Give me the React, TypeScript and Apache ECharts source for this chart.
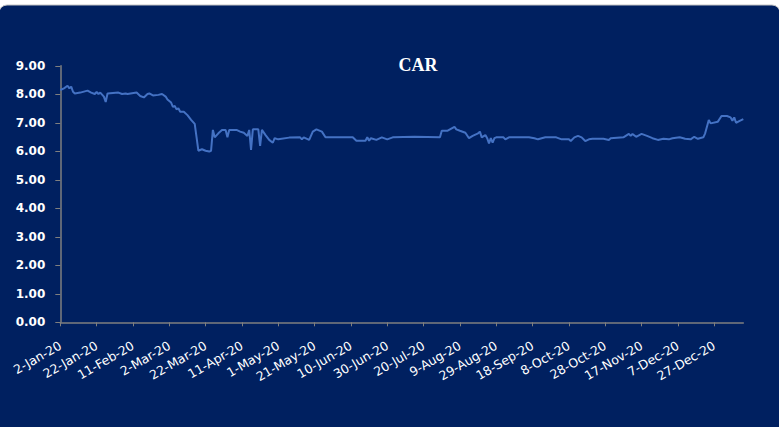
import { useEffect, useRef } from 'react';
import * as echarts from 'echarts';

// Day offsets counted from 2-Jan-20 (axis runs to 12-Jan-21 = day 376)
const dayOffsets = [
  0, 2, 4, 5, 6, 7, 8, 11, 15, 17, 19, 20, 21, 22, 24, 25, 26, 32, 34, 36,
  37, 42, 44, 46, 48, 49, 51, 54, 56, 58, 59, 61, 62, 63, 64, 65, 66, 68, 70, 72,
  74, 75, 76, 78, 80, 82, 83, 84, 85, 87, 89, 91, 92, 93, 97, 99, 101, 103, 104, 105,
  106, 109, 110, 111, 113, 115, 117, 118, 120, 126, 132, 133, 134, 137, 139, 141, 144, 146, 161, 163,
  168, 169, 170, 171, 174, 177, 180, 183, 195, 209, 210, 213, 217, 218, 220, 223, 225, 227, 230, 231,
  232, 234, 235, 236, 237, 238, 239, 240, 244, 245, 247, 258, 261, 263, 267, 273, 276, 280, 281, 283,
  285, 287, 289, 291, 293, 299, 302, 303, 310, 313, 314, 315, 317, 320, 323, 326, 329, 332, 335, 337,
  341, 344, 347, 349, 351, 354, 355, 357, 358, 362, 364, 367, 369, 370, 371, 372, 374, 376,
];

const carValues = [
  8.15, 8.21, 8.30, 8.21, 8.27, 8.09, 8.03, 8.06, 8.13, 8.06, 8.01, 8.08, 8.01, 8.06, 7.92, 7.73, 8.03, 8.06, 8.01, 8.03,
  8.01, 8.06, 7.94, 7.89, 8.01, 8.03, 7.96, 7.98, 8.01, 7.92, 7.82, 7.71, 7.56, 7.59, 7.47, 7.51, 7.39, 7.39, 7.27, 7.10,
  6.96, 6.50, 6.02, 6.07, 6.02, 5.99, 6.02, 6.75, 6.49, 6.63, 6.75, 6.75, 6.49, 6.75, 6.75, 6.69, 6.65, 6.54, 6.75, 6.05,
  6.77, 6.77, 6.19, 6.75, 6.57, 6.40, 6.30, 6.46, 6.42, 6.48, 6.49, 6.42, 6.49, 6.40, 6.69, 6.77, 6.69, 6.49, 6.49, 6.37,
  6.37, 6.49, 6.37, 6.46, 6.40, 6.49, 6.42, 6.49, 6.51, 6.49, 6.72, 6.72, 6.86, 6.77, 6.72, 6.65, 6.46, 6.54, 6.63, 6.69,
  6.49, 6.57, 6.46, 6.28, 6.46, 6.30, 6.46, 6.49, 6.49, 6.42, 6.49, 6.49, 6.46, 6.42, 6.49, 6.49, 6.42, 6.42, 6.36, 6.49,
  6.54, 6.49, 6.36, 6.42, 6.44, 6.44, 6.40, 6.46, 6.49, 6.61, 6.54, 6.61, 6.51, 6.61, 6.54, 6.46, 6.40, 6.44, 6.42, 6.46,
  6.49, 6.44, 6.42, 6.51, 6.44, 6.49, 6.63, 7.10, 6.98, 7.04, 7.24, 7.24, 7.19, 7.07, 7.19, 7.00, 7.07, 7.13,
];

const tickLabels = [
  '2-Jan-20', '22-Jan-20', '11-Feb-20', '2-Mar-20', '22-Mar-20', '11-Apr-20', '1-May-20',
  '21-May-20', '10-Jun-20', '30-Jun-20', '20-Jul-20', '9-Aug-20', '29-Aug-20', '18-Sep-20',
  '8-Oct-20', '28-Oct-20', '17-Nov-20', '7-Dec-20', '27-Dec-20',
];
const tickStepDays = 20;
const axisEndDay = 376;

export default function App() {
  const ref = useRef<HTMLDivElement>(null);

  useEffect(() => {
    const chart = echarts.init(ref.current!, null, { renderer: 'svg' });
    const tickDays = tickLabels.map((_, i) => i * tickStepDays);
    chart.setOption({
      animation: false,
      backgroundColor: '#ffffff',
      graphic: [
        {
          type: 'rect',
          z: -10,
          silent: true,
          shape: { x: -1, y: 5, width: 781, height: 440, r: 8 },
          style: { fill: '#002060', stroke: '#c4c4c4', lineWidth: 1 },
        },
      ],
      title: {
        text: 'CAR',
        left: 413,
        top: 51,
        textAlign: 'center',
        textStyle: {
          fontFamily: '"Liberation Serif", "Times New Roman", serif',
          fontWeight: 'bold',
          fontSize: 18,
          color: '#ffffff',
        },
      },
      grid: {
        left: 60.3,
        right: 35.7,
        top: 65.8,
        bottom: 104.7,
        containLabel: false,
        outerBoundsMode: 'none',
      },
      xAxis: {
        type: 'value',
        min: 0,
        max: axisEndDay,
        interval: tickStepDays,
        splitLine: { show: false },
        axisLine: { show: true, lineStyle: { color: '#7f7f7f', width: 1.5 } },
        axisTick: {
          show: true,
          length: 4,
          customValues: tickDays,
          lineStyle: { color: '#7f7f7f', width: 1 },
        },
        axisLabel: {
          customValues: tickDays,
          formatter: (v: number) => tickLabels[Math.round(v / tickStepDays)] ?? '',
          rotate: 30,
          margin: 22,
          color: '#ffffff',
          fontFamily: '"DejaVu Sans", Verdana, sans-serif',
          fontSize: 12.5,
        },
      },
      yAxis: {
        type: 'value',
        min: 0,
        max: 9,
        interval: 1,
        splitLine: { show: false },
        axisLine: { show: true, lineStyle: { color: '#7f7f7f', width: 1.5 } },
        axisTick: { show: true, length: 5, lineStyle: { color: '#7f7f7f', width: 1 } },
        axisLabel: {
          formatter: (v: number) => v.toFixed(2),
          margin: 15,
          color: '#ffffff',
          fontWeight: 'bold',
          fontFamily: '"DejaVu Sans", Verdana, sans-serif',
          fontSize: 12,
        },
      },
      series: [
        {
          type: 'line',
          name: 'CAR',
          data: dayOffsets.map((d, i) => [d, carValues[i]]),
          showSymbol: false,
          symbol: 'none',
          lineStyle: { color: '#4472C4', width: 2 },
        },
      ],
    });
    return () => chart.dispose();
  }, []);

  return (
    <div style={{ position: 'absolute', left: 0, top: 0, width: 779, height: 427 }}>
      <div ref={ref} style={{ width: 779, height: 427 }} />
    </div>
  );
}
